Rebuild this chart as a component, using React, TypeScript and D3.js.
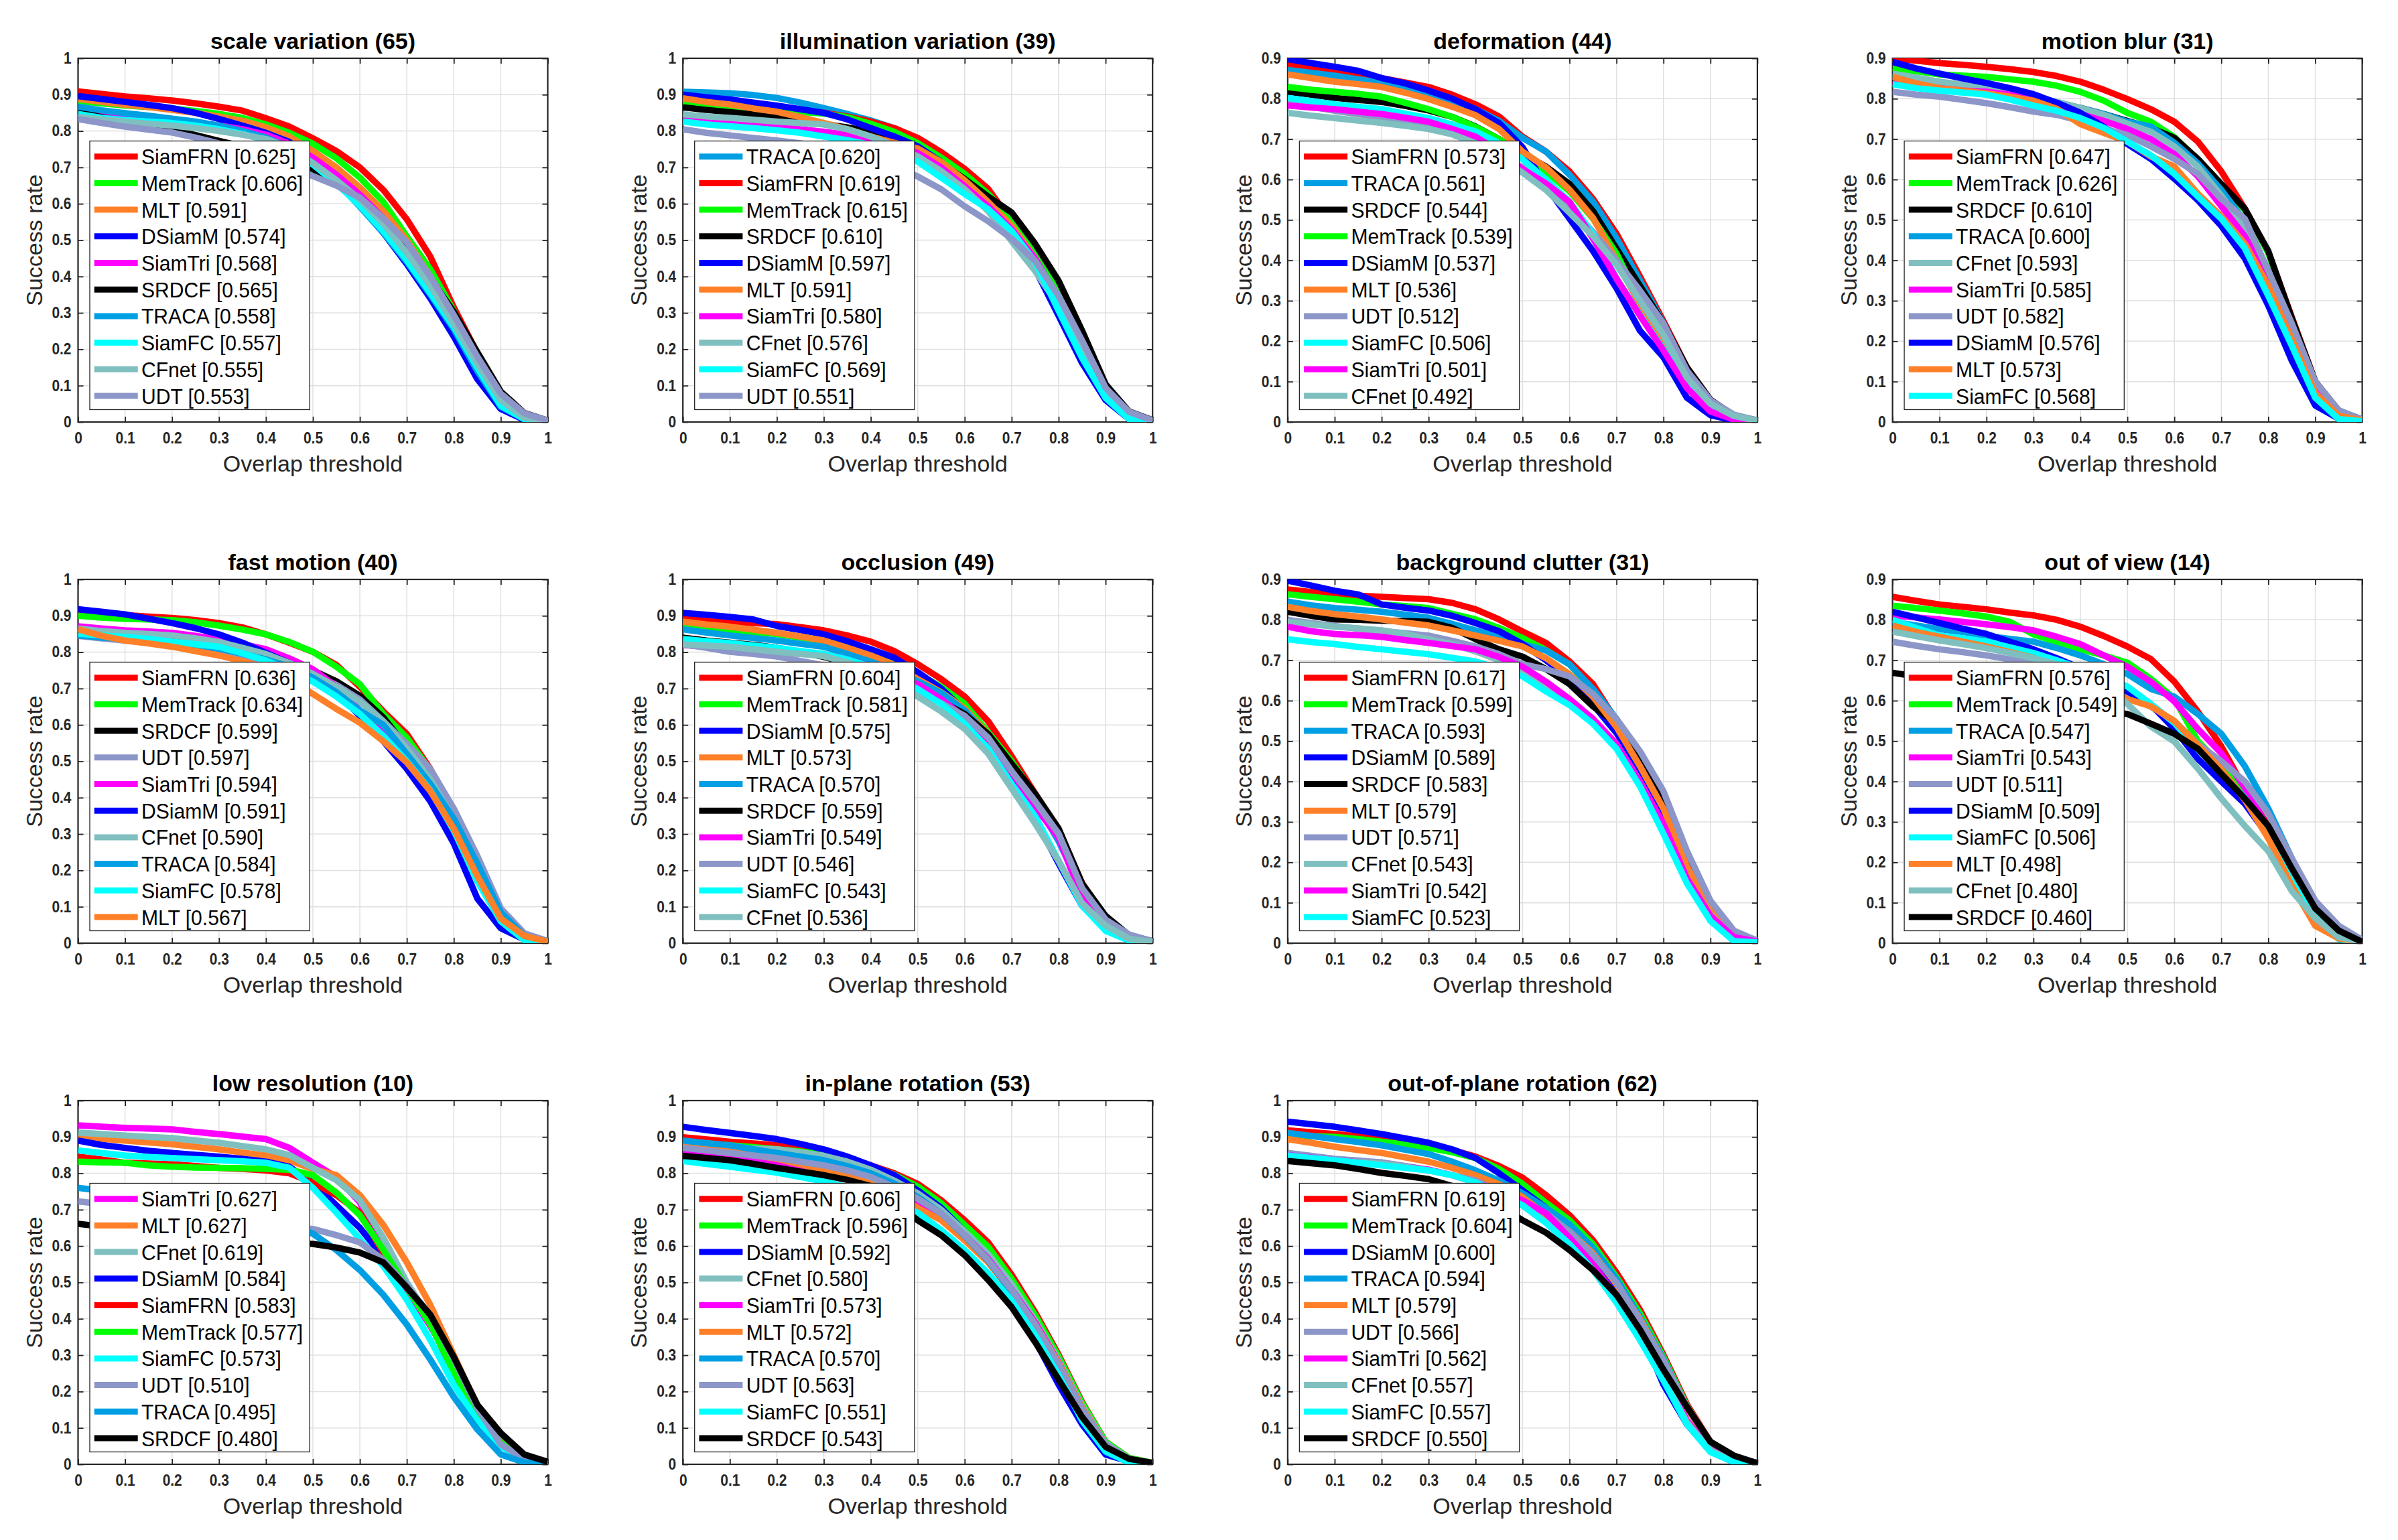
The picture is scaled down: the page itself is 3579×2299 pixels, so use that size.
import { useEffect, useRef } from 'react';
import * as d3 from 'd3';

type Series = [string, number, number[]];

// overlap thresholds used by every success curve
const thresholds = [0, 0.05, 0.1, 0.15, 0.2, 0.25, 0.3, 0.35, 0.4, 0.45, 0.5, 0.55, 0.6, 0.65, 0.7, 0.75, 0.8, 0.85, 0.9, 0.95, 1];

const trackerNames = ['SiamFRN', 'MemTrack', 'MLT', 'DSiamM', 'SiamTri', 'SRDCF', 'TRACA', 'SiamFC', 'CFnet', 'UDT'];
const trackerColors = ['#ff0000', '#00ff00', '#ff8028', '#0000ff', '#ff00ff', '#000000', '#009fe3', '#00ffff', '#7fbfbf', '#8c96c8'];

const scaleVariation: Series[] = [
  ['SiamFRN', 0.625, [0.909, 0.902, 0.895, 0.890, 0.884, 0.876, 0.867, 0.856, 0.835, 0.812, 0.780, 0.745, 0.700, 0.638, 0.557, 0.455, 0.315, 0.190, 0.078, 0.022, 0.003]],
  ['MemTrack', 0.606, [0.882, 0.876, 0.870, 0.866, 0.862, 0.855, 0.847, 0.836, 0.818, 0.795, 0.765, 0.725, 0.672, 0.605, 0.510, 0.420, 0.305, 0.180, 0.072, 0.020, 0.003]],
  ['MLT', 0.591, [0.888, 0.880, 0.872, 0.866, 0.858, 0.850, 0.840, 0.828, 0.810, 0.785, 0.745, 0.700, 0.645, 0.580, 0.500, 0.400, 0.290, 0.175, 0.068, 0.018, 0.003]],
  ['DSiamM', 0.574, [0.896, 0.888, 0.880, 0.872, 0.863, 0.850, 0.833, 0.815, 0.795, 0.770, 0.718, 0.662, 0.595, 0.520, 0.434, 0.340, 0.235, 0.118, 0.036, 0.006, 0.001]],
  ['SiamTri', 0.568, [0.850, 0.842, 0.836, 0.832, 0.828, 0.822, 0.815, 0.805, 0.790, 0.765, 0.727, 0.680, 0.625, 0.560, 0.488, 0.400, 0.295, 0.170, 0.060, 0.015, 0.002]],
  ['SRDCF', 0.565, [0.852, 0.838, 0.826, 0.815, 0.803, 0.789, 0.773, 0.758, 0.740, 0.718, 0.690, 0.655, 0.610, 0.550, 0.481, 0.395, 0.303, 0.192, 0.084, 0.025, 0.004]],
  ['TRACA', 0.558, [0.867, 0.857, 0.849, 0.842, 0.834, 0.826, 0.815, 0.800, 0.782, 0.755, 0.712, 0.660, 0.592, 0.520, 0.440, 0.350, 0.255, 0.140, 0.042, 0.008, 0.001]],
  ['SiamFC', 0.557, [0.847, 0.836, 0.830, 0.826, 0.822, 0.815, 0.805, 0.792, 0.775, 0.750, 0.708, 0.655, 0.595, 0.525, 0.445, 0.355, 0.262, 0.150, 0.045, 0.008, 0.001]],
  ['CFnet', 0.555, [0.839, 0.832, 0.826, 0.820, 0.815, 0.808, 0.800, 0.790, 0.778, 0.755, 0.712, 0.665, 0.612, 0.545, 0.465, 0.375, 0.270, 0.160, 0.060, 0.012, 0.002]],
  ['UDT', 0.553, [0.833, 0.822, 0.812, 0.804, 0.796, 0.782, 0.766, 0.750, 0.732, 0.708, 0.676, 0.650, 0.617, 0.560, 0.494, 0.400, 0.294, 0.180, 0.078, 0.024, 0.004]],
];

const illuminationVariation: Series[] = [
  ['TRACA', 0.620, [0.908, 0.906, 0.904, 0.899, 0.891, 0.878, 0.863, 0.847, 0.829, 0.808, 0.779, 0.740, 0.658, 0.610, 0.545, 0.455, 0.345, 0.215, 0.085, 0.015, 0.003]],
  ['SiamFRN', 0.619, [0.885, 0.878, 0.872, 0.866, 0.860, 0.855, 0.850, 0.840, 0.826, 0.808, 0.781, 0.742, 0.696, 0.641, 0.552, 0.449, 0.345, 0.215, 0.085, 0.018, 0.003]],
  ['MemTrack', 0.615, [0.879, 0.872, 0.866, 0.861, 0.856, 0.852, 0.848, 0.838, 0.820, 0.798, 0.767, 0.727, 0.682, 0.627, 0.559, 0.477, 0.367, 0.235, 0.092, 0.022, 0.003]],
  ['SRDCF', 0.610, [0.865, 0.858, 0.852, 0.846, 0.839, 0.830, 0.819, 0.810, 0.798, 0.778, 0.750, 0.712, 0.668, 0.620, 0.576, 0.490, 0.388, 0.251, 0.104, 0.029, 0.005]],
  ['DSiamM', 0.597, [0.900, 0.893, 0.887, 0.878, 0.870, 0.860, 0.850, 0.832, 0.808, 0.785, 0.758, 0.715, 0.660, 0.605, 0.530, 0.420, 0.292, 0.162, 0.060, 0.008, 0.001]],
  ['MLT', 0.591, [0.890, 0.880, 0.873, 0.862, 0.853, 0.838, 0.822, 0.805, 0.785, 0.768, 0.752, 0.715, 0.665, 0.605, 0.540, 0.450, 0.330, 0.200, 0.075, 0.015, 0.002]],
  ['SiamTri', 0.580, [0.842, 0.835, 0.826, 0.820, 0.812, 0.805, 0.798, 0.790, 0.775, 0.760, 0.740, 0.700, 0.648, 0.593, 0.530, 0.449, 0.340, 0.205, 0.075, 0.012, 0.002]],
  ['CFnet', 0.576, [0.846, 0.840, 0.836, 0.831, 0.826, 0.822, 0.818, 0.805, 0.785, 0.760, 0.730, 0.690, 0.640, 0.580, 0.497, 0.415, 0.320, 0.200, 0.075, 0.012, 0.002]],
  ['SiamFC', 0.569, [0.826, 0.818, 0.813, 0.808, 0.802, 0.795, 0.785, 0.775, 0.762, 0.742, 0.716, 0.672, 0.627, 0.585, 0.525, 0.440, 0.306, 0.176, 0.066, 0.008, 0.001]],
  ['UDT', 0.551, [0.805, 0.795, 0.788, 0.781, 0.774, 0.766, 0.756, 0.742, 0.725, 0.702, 0.675, 0.640, 0.593, 0.552, 0.504, 0.443, 0.347, 0.224, 0.094, 0.028, 0.004]],
];

const deformation: Series[] = [
  ['SiamFRN', 0.573, [0.884, 0.875, 0.866, 0.858, 0.851, 0.840, 0.829, 0.810, 0.786, 0.756, 0.706, 0.669, 0.620, 0.552, 0.466, 0.360, 0.250, 0.135, 0.055, 0.015, 0.003]],
  ['TRACA', 0.561, [0.871, 0.864, 0.857, 0.848, 0.839, 0.825, 0.811, 0.795, 0.774, 0.745, 0.703, 0.669, 0.612, 0.545, 0.455, 0.350, 0.245, 0.130, 0.052, 0.014, 0.003]],
  ['SRDCF', 0.544, [0.817, 0.810, 0.802, 0.797, 0.792, 0.782, 0.771, 0.755, 0.731, 0.700, 0.663, 0.632, 0.589, 0.522, 0.429, 0.337, 0.244, 0.135, 0.055, 0.016, 0.004]],
  ['MemTrack', 0.539, [0.829, 0.822, 0.817, 0.812, 0.805, 0.790, 0.774, 0.755, 0.730, 0.700, 0.663, 0.620, 0.571, 0.503, 0.417, 0.300, 0.220, 0.115, 0.048, 0.014, 0.003]],
  ['DSiamM', 0.537, [0.898, 0.888, 0.879, 0.869, 0.851, 0.838, 0.820, 0.800, 0.774, 0.740, 0.680, 0.583, 0.503, 0.423, 0.331, 0.226, 0.160, 0.060, 0.017, 0.004, 0.001]],
  ['MLT', 0.536, [0.860, 0.851, 0.842, 0.836, 0.829, 0.815, 0.799, 0.780, 0.759, 0.725, 0.669, 0.630, 0.575, 0.505, 0.400, 0.290, 0.195, 0.105, 0.040, 0.010, 0.002]],
  ['UDT', 0.512, [0.790, 0.780, 0.770, 0.762, 0.754, 0.742, 0.730, 0.712, 0.690, 0.660, 0.630, 0.585, 0.534, 0.470, 0.400, 0.325, 0.244, 0.127, 0.054, 0.018, 0.004]],
  ['SiamFC', 0.506, [0.802, 0.794, 0.786, 0.780, 0.774, 0.763, 0.752, 0.736, 0.719, 0.690, 0.650, 0.600, 0.545, 0.465, 0.355, 0.265, 0.180, 0.090, 0.030, 0.008, 0.001]],
  ['SiamTri', 0.501, [0.783, 0.778, 0.774, 0.768, 0.762, 0.753, 0.743, 0.725, 0.706, 0.670, 0.626, 0.590, 0.545, 0.454, 0.355, 0.263, 0.177, 0.084, 0.026, 0.006, 0.001]],
  ['CFnet', 0.492, [0.765, 0.758, 0.752, 0.746, 0.740, 0.733, 0.725, 0.712, 0.690, 0.655, 0.617, 0.574, 0.518, 0.460, 0.390, 0.300, 0.215, 0.110, 0.045, 0.015, 0.003]],
];

const motionBlur: Series[] = [
  ['SiamFRN', 0.647, [0.900, 0.894, 0.888, 0.884, 0.879, 0.873, 0.866, 0.856, 0.842, 0.822, 0.799, 0.774, 0.743, 0.694, 0.620, 0.528, 0.420, 0.260, 0.100, 0.025, 0.005]],
  ['MemTrack', 0.626, [0.876, 0.868, 0.860, 0.857, 0.854, 0.848, 0.842, 0.832, 0.817, 0.795, 0.765, 0.743, 0.705, 0.650, 0.588, 0.525, 0.418, 0.255, 0.098, 0.024, 0.005]],
  ['SRDCF', 0.610, [0.850, 0.842, 0.835, 0.826, 0.818, 0.810, 0.805, 0.790, 0.777, 0.762, 0.745, 0.728, 0.703, 0.651, 0.589, 0.528, 0.423, 0.257, 0.100, 0.028, 0.006]],
  ['TRACA', 0.600, [0.855, 0.846, 0.838, 0.830, 0.822, 0.812, 0.800, 0.790, 0.777, 0.762, 0.743, 0.731, 0.691, 0.640, 0.574, 0.497, 0.374, 0.230, 0.090, 0.022, 0.005]],
  ['CFnet', 0.593, [0.862, 0.852, 0.842, 0.835, 0.828, 0.818, 0.805, 0.792, 0.777, 0.760, 0.738, 0.718, 0.682, 0.632, 0.560, 0.480, 0.360, 0.225, 0.088, 0.022, 0.005]],
  ['SiamTri', 0.585, [0.842, 0.832, 0.826, 0.820, 0.817, 0.810, 0.799, 0.782, 0.762, 0.745, 0.725, 0.700, 0.663, 0.608, 0.534, 0.460, 0.355, 0.215, 0.082, 0.018, 0.004]],
  ['UDT', 0.582, [0.817, 0.810, 0.805, 0.797, 0.789, 0.779, 0.768, 0.760, 0.745, 0.726, 0.710, 0.682, 0.651, 0.614, 0.552, 0.503, 0.374, 0.244, 0.100, 0.029, 0.006]],
  ['DSiamM', 0.576, [0.891, 0.875, 0.862, 0.850, 0.839, 0.826, 0.811, 0.790, 0.765, 0.730, 0.688, 0.651, 0.602, 0.549, 0.485, 0.405, 0.288, 0.152, 0.041, 0.008, 0.002]],
  ['MLT', 0.573, [0.854, 0.838, 0.826, 0.820, 0.813, 0.805, 0.795, 0.775, 0.737, 0.715, 0.694, 0.657, 0.632, 0.565, 0.509, 0.441, 0.337, 0.205, 0.072, 0.015, 0.004]],
  ['SiamFC', 0.568, [0.836, 0.826, 0.820, 0.815, 0.810, 0.798, 0.783, 0.770, 0.752, 0.728, 0.694, 0.660, 0.614, 0.558, 0.503, 0.430, 0.312, 0.189, 0.060, 0.007, 0.002]],
];

const fastMotion: Series[] = [
  ['SiamFRN', 0.636, [0.910, 0.905, 0.902, 0.898, 0.894, 0.888, 0.880, 0.868, 0.849, 0.826, 0.801, 0.765, 0.705, 0.637, 0.575, 0.479, 0.360, 0.225, 0.090, 0.022, 0.005]],
  ['MemTrack', 0.634, [0.900, 0.895, 0.892, 0.890, 0.888, 0.882, 0.873, 0.862, 0.849, 0.828, 0.801, 0.760, 0.712, 0.630, 0.565, 0.475, 0.358, 0.224, 0.090, 0.022, 0.005]],
  ['SRDCF', 0.599, [0.860, 0.852, 0.845, 0.838, 0.830, 0.826, 0.822, 0.810, 0.795, 0.775, 0.750, 0.720, 0.680, 0.620, 0.540, 0.455, 0.349, 0.215, 0.085, 0.020, 0.005]],
  ['UDT', 0.597, [0.845, 0.838, 0.832, 0.826, 0.820, 0.812, 0.802, 0.790, 0.775, 0.760, 0.740, 0.710, 0.670, 0.610, 0.548, 0.479, 0.370, 0.240, 0.096, 0.027, 0.006]],
  ['SiamTri', 0.594, [0.871, 0.865, 0.860, 0.857, 0.853, 0.845, 0.835, 0.822, 0.808, 0.783, 0.753, 0.705, 0.640, 0.575, 0.510, 0.430, 0.330, 0.195, 0.070, 0.015, 0.003]],
  ['DSiamM', 0.591, [0.918, 0.911, 0.904, 0.892, 0.880, 0.866, 0.849, 0.826, 0.798, 0.770, 0.735, 0.690, 0.625, 0.555, 0.479, 0.390, 0.274, 0.123, 0.041, 0.010, 0.002]],
  ['CFnet', 0.590, [0.865, 0.858, 0.853, 0.850, 0.846, 0.838, 0.828, 0.812, 0.795, 0.770, 0.740, 0.705, 0.664, 0.610, 0.535, 0.450, 0.340, 0.205, 0.075, 0.015, 0.003]],
  ['TRACA', 0.584, [0.846, 0.840, 0.836, 0.830, 0.824, 0.818, 0.810, 0.796, 0.780, 0.760, 0.730, 0.690, 0.640, 0.600, 0.520, 0.438, 0.342, 0.219, 0.085, 0.020, 0.004]],
  ['SiamFC', 0.578, [0.851, 0.846, 0.842, 0.836, 0.829, 0.822, 0.815, 0.797, 0.777, 0.750, 0.719, 0.678, 0.630, 0.570, 0.500, 0.420, 0.310, 0.170, 0.060, 0.008, 0.002]],
  ['MLT', 0.567, [0.863, 0.845, 0.832, 0.824, 0.815, 0.803, 0.791, 0.775, 0.758, 0.725, 0.685, 0.644, 0.606, 0.555, 0.497, 0.418, 0.315, 0.185, 0.068, 0.020, 0.004]],
];

const occlusion: Series[] = [
  ['SiamFRN', 0.604, [0.896, 0.890, 0.884, 0.880, 0.877, 0.869, 0.860, 0.846, 0.829, 0.803, 0.767, 0.726, 0.678, 0.610, 0.514, 0.411, 0.310, 0.165, 0.070, 0.020, 0.005]],
  ['MemTrack', 0.581, [0.873, 0.866, 0.860, 0.855, 0.850, 0.840, 0.830, 0.815, 0.795, 0.770, 0.740, 0.705, 0.658, 0.580, 0.500, 0.405, 0.300, 0.155, 0.068, 0.020, 0.005]],
  ['DSiamM', 0.575, [0.908, 0.903, 0.897, 0.890, 0.872, 0.861, 0.849, 0.830, 0.808, 0.785, 0.745, 0.700, 0.640, 0.560, 0.450, 0.342, 0.219, 0.103, 0.040, 0.008, 0.002]],
  ['MLT', 0.573, [0.884, 0.876, 0.870, 0.862, 0.853, 0.843, 0.832, 0.812, 0.791, 0.765, 0.726, 0.690, 0.645, 0.575, 0.490, 0.395, 0.290, 0.150, 0.060, 0.015, 0.003]],
  ['TRACA', 0.570, [0.863, 0.854, 0.846, 0.839, 0.832, 0.823, 0.815, 0.795, 0.774, 0.750, 0.720, 0.688, 0.640, 0.570, 0.485, 0.390, 0.280, 0.145, 0.058, 0.015, 0.003]],
  ['SRDCF', 0.559, [0.840, 0.832, 0.826, 0.820, 0.812, 0.800, 0.787, 0.770, 0.752, 0.725, 0.700, 0.665, 0.630, 0.575, 0.493, 0.411, 0.315, 0.164, 0.075, 0.022, 0.005]],
  ['SiamTri', 0.549, [0.820, 0.815, 0.810, 0.804, 0.798, 0.796, 0.795, 0.780, 0.760, 0.737, 0.712, 0.671, 0.620, 0.555, 0.470, 0.375, 0.290, 0.125, 0.050, 0.012, 0.003]],
  ['UDT', 0.546, [0.822, 0.812, 0.801, 0.795, 0.788, 0.776, 0.764, 0.748, 0.730, 0.712, 0.690, 0.660, 0.625, 0.565, 0.473, 0.390, 0.301, 0.151, 0.065, 0.024, 0.005]],
  ['SiamFC', 0.543, [0.836, 0.830, 0.825, 0.818, 0.812, 0.803, 0.795, 0.780, 0.760, 0.730, 0.699, 0.658, 0.603, 0.535, 0.438, 0.349, 0.226, 0.103, 0.034, 0.007, 0.002]],
  ['CFnet', 0.536, [0.822, 0.818, 0.815, 0.808, 0.801, 0.795, 0.789, 0.772, 0.752, 0.718, 0.678, 0.637, 0.589, 0.521, 0.425, 0.329, 0.226, 0.110, 0.048, 0.012, 0.003]],
];

const backgroundClutter: Series[] = [
  ['SiamFRN', 0.617, [0.875, 0.869, 0.863, 0.860, 0.857, 0.854, 0.851, 0.842, 0.826, 0.801, 0.771, 0.743, 0.697, 0.641, 0.550, 0.455, 0.350, 0.205, 0.090, 0.025, 0.005]],
  ['MemTrack', 0.599, [0.863, 0.857, 0.851, 0.845, 0.838, 0.834, 0.829, 0.815, 0.801, 0.780, 0.755, 0.725, 0.690, 0.625, 0.545, 0.445, 0.340, 0.200, 0.085, 0.022, 0.005]],
  ['TRACA', 0.593, [0.845, 0.836, 0.829, 0.825, 0.820, 0.813, 0.805, 0.790, 0.774, 0.758, 0.740, 0.724, 0.690, 0.629, 0.555, 0.462, 0.360, 0.215, 0.092, 0.025, 0.005]],
  ['DSiamM', 0.589, [0.897, 0.885, 0.872, 0.863, 0.838, 0.830, 0.823, 0.810, 0.792, 0.772, 0.740, 0.700, 0.655, 0.590, 0.520, 0.430, 0.320, 0.180, 0.068, 0.015, 0.003]],
  ['SRDCF', 0.583, [0.820, 0.810, 0.801, 0.800, 0.798, 0.797, 0.795, 0.780, 0.752, 0.727, 0.709, 0.678, 0.641, 0.586, 0.543, 0.456, 0.351, 0.203, 0.086, 0.025, 0.006]],
  ['MLT', 0.579, [0.832, 0.822, 0.814, 0.808, 0.801, 0.793, 0.786, 0.774, 0.761, 0.748, 0.734, 0.705, 0.665, 0.610, 0.535, 0.438, 0.333, 0.190, 0.080, 0.020, 0.005]],
  ['UDT', 0.571, [0.800, 0.792, 0.785, 0.778, 0.772, 0.767, 0.761, 0.748, 0.734, 0.715, 0.690, 0.678, 0.660, 0.617, 0.555, 0.475, 0.376, 0.228, 0.105, 0.031, 0.006]],
  ['CFnet', 0.543, [0.795, 0.789, 0.783, 0.779, 0.774, 0.765, 0.752, 0.740, 0.722, 0.700, 0.675, 0.640, 0.600, 0.550, 0.490, 0.400, 0.290, 0.160, 0.070, 0.015, 0.004]],
  ['SiamTri', 0.542, [0.783, 0.772, 0.765, 0.762, 0.758, 0.750, 0.743, 0.735, 0.727, 0.708, 0.684, 0.647, 0.604, 0.555, 0.493, 0.400, 0.295, 0.160, 0.068, 0.015, 0.004]],
  ['SiamFC', 0.523, [0.752, 0.745, 0.740, 0.733, 0.727, 0.721, 0.715, 0.706, 0.697, 0.680, 0.660, 0.623, 0.589, 0.543, 0.481, 0.388, 0.271, 0.148, 0.055, 0.005, 0.002]],
];

const outOfView: Series[] = [
  ['SiamFRN', 0.576, [0.857, 0.847, 0.838, 0.832, 0.826, 0.818, 0.811, 0.800, 0.783, 0.760, 0.734, 0.703, 0.647, 0.573, 0.487, 0.382, 0.290, 0.180, 0.080, 0.020, 0.004]],
  ['MemTrack', 0.549, [0.835, 0.829, 0.823, 0.816, 0.808, 0.795, 0.764, 0.745, 0.727, 0.712, 0.694, 0.654, 0.605, 0.500, 0.440, 0.370, 0.275, 0.160, 0.070, 0.015, 0.003]],
  ['TRACA', 0.547, [0.795, 0.786, 0.777, 0.770, 0.760, 0.753, 0.746, 0.730, 0.712, 0.690, 0.666, 0.629, 0.610, 0.567, 0.518, 0.438, 0.333, 0.210, 0.090, 0.025, 0.004]],
  ['SiamTri', 0.543, [0.811, 0.806, 0.801, 0.795, 0.789, 0.782, 0.774, 0.758, 0.740, 0.712, 0.684, 0.647, 0.598, 0.530, 0.470, 0.385, 0.285, 0.165, 0.075, 0.018, 0.003]],
  ['UDT', 0.511, [0.746, 0.736, 0.727, 0.720, 0.712, 0.702, 0.690, 0.675, 0.660, 0.640, 0.615, 0.585, 0.549, 0.493, 0.450, 0.400, 0.321, 0.210, 0.105, 0.043, 0.008]],
  ['DSiamM', 0.509, [0.820, 0.806, 0.792, 0.778, 0.765, 0.746, 0.727, 0.705, 0.680, 0.650, 0.623, 0.590, 0.530, 0.456, 0.400, 0.345, 0.265, 0.160, 0.075, 0.015, 0.003]],
  ['SiamFC', 0.506, [0.800, 0.780, 0.761, 0.754, 0.746, 0.732, 0.718, 0.700, 0.680, 0.660, 0.635, 0.592, 0.545, 0.480, 0.420, 0.360, 0.270, 0.160, 0.070, 0.010, 0.002]],
  ['MLT', 0.498, [0.786, 0.770, 0.758, 0.746, 0.734, 0.720, 0.706, 0.680, 0.655, 0.630, 0.604, 0.586, 0.550, 0.490, 0.430, 0.355, 0.259, 0.142, 0.043, 0.012, 0.002]],
  ['CFnet', 0.480, [0.771, 0.760, 0.749, 0.740, 0.730, 0.718, 0.705, 0.690, 0.670, 0.640, 0.592, 0.536, 0.499, 0.432, 0.358, 0.290, 0.228, 0.129, 0.062, 0.015, 0.003]],
  ['SRDCF', 0.460, [0.669, 0.660, 0.650, 0.640, 0.630, 0.620, 0.610, 0.598, 0.585, 0.575, 0.567, 0.543, 0.518, 0.481, 0.419, 0.358, 0.290, 0.185, 0.086, 0.031, 0.003]],
];

const lowResolution: Series[] = [
  ['SiamTri', 0.627, [0.932, 0.928, 0.925, 0.923, 0.921, 0.914, 0.908, 0.901, 0.894, 0.870, 0.829, 0.790, 0.720, 0.582, 0.480, 0.380, 0.270, 0.140, 0.060, 0.012, 0.002]],
  ['MLT', 0.627, [0.900, 0.895, 0.890, 0.885, 0.880, 0.873, 0.866, 0.857, 0.849, 0.835, 0.812, 0.795, 0.740, 0.658, 0.555, 0.438, 0.300, 0.160, 0.065, 0.015, 0.003]],
  ['CFnet', 0.619, [0.912, 0.908, 0.904, 0.900, 0.897, 0.890, 0.884, 0.875, 0.866, 0.850, 0.815, 0.781, 0.726, 0.623, 0.500, 0.400, 0.280, 0.150, 0.060, 0.012, 0.002]],
  ['DSiamM', 0.584, [0.890, 0.878, 0.870, 0.862, 0.856, 0.851, 0.846, 0.840, 0.832, 0.818, 0.774, 0.712, 0.650, 0.570, 0.490, 0.390, 0.270, 0.140, 0.055, 0.010, 0.002]],
  ['SiamFRN', 0.583, [0.846, 0.838, 0.829, 0.827, 0.825, 0.820, 0.815, 0.812, 0.808, 0.800, 0.774, 0.740, 0.692, 0.582, 0.486, 0.390, 0.247, 0.137, 0.060, 0.012, 0.002]],
  ['MemTrack', 0.577, [0.832, 0.830, 0.829, 0.822, 0.818, 0.816, 0.815, 0.814, 0.812, 0.810, 0.795, 0.747, 0.685, 0.590, 0.486, 0.385, 0.255, 0.140, 0.060, 0.012, 0.002]],
  ['SiamFC', 0.573, [0.863, 0.856, 0.849, 0.845, 0.842, 0.839, 0.836, 0.833, 0.829, 0.815, 0.760, 0.692, 0.620, 0.545, 0.452, 0.342, 0.219, 0.120, 0.050, 0.010, 0.002]],
  ['UDT', 0.510, [0.723, 0.716, 0.710, 0.702, 0.695, 0.688, 0.680, 0.670, 0.660, 0.652, 0.647, 0.630, 0.610, 0.562, 0.490, 0.411, 0.290, 0.155, 0.055, 0.015, 0.003]],
  ['TRACA', 0.495, [0.760, 0.752, 0.745, 0.738, 0.730, 0.720, 0.710, 0.695, 0.680, 0.660, 0.634, 0.589, 0.534, 0.466, 0.384, 0.288, 0.185, 0.096, 0.027, 0.005, 0.001]],
  ['SRDCF', 0.480, [0.661, 0.654, 0.648, 0.642, 0.636, 0.630, 0.625, 0.618, 0.612, 0.609, 0.606, 0.596, 0.582, 0.555, 0.486, 0.411, 0.295, 0.164, 0.086, 0.027, 0.007]],
];

const inPlaneRotation: Series[] = [
  ['SiamFRN', 0.606, [0.899, 0.893, 0.887, 0.882, 0.877, 0.866, 0.853, 0.840, 0.822, 0.800, 0.771, 0.726, 0.671, 0.610, 0.521, 0.418, 0.301, 0.171, 0.062, 0.017, 0.004]],
  ['MemTrack', 0.596, [0.888, 0.882, 0.877, 0.872, 0.866, 0.860, 0.853, 0.838, 0.820, 0.796, 0.764, 0.718, 0.658, 0.598, 0.510, 0.410, 0.296, 0.168, 0.062, 0.017, 0.004]],
  ['DSiamM', 0.592, [0.928, 0.919, 0.911, 0.903, 0.894, 0.881, 0.866, 0.846, 0.822, 0.795, 0.753, 0.705, 0.640, 0.565, 0.470, 0.340, 0.219, 0.110, 0.027, 0.008, 0.002]],
  ['CFnet', 0.580, [0.880, 0.875, 0.870, 0.868, 0.866, 0.858, 0.848, 0.832, 0.810, 0.780, 0.745, 0.700, 0.640, 0.578, 0.495, 0.395, 0.285, 0.160, 0.058, 0.015, 0.003]],
  ['SiamTri', 0.573, [0.856, 0.851, 0.846, 0.838, 0.829, 0.822, 0.815, 0.805, 0.795, 0.765, 0.719, 0.680, 0.630, 0.565, 0.480, 0.390, 0.280, 0.155, 0.055, 0.013, 0.003]],
  ['MLT', 0.572, [0.880, 0.870, 0.860, 0.850, 0.840, 0.825, 0.808, 0.792, 0.772, 0.742, 0.705, 0.671, 0.616, 0.555, 0.475, 0.385, 0.278, 0.155, 0.055, 0.013, 0.003]],
  ['TRACA', 0.570, [0.890, 0.883, 0.877, 0.866, 0.856, 0.846, 0.836, 0.820, 0.800, 0.772, 0.735, 0.690, 0.628, 0.560, 0.475, 0.380, 0.272, 0.150, 0.052, 0.012, 0.003]],
  ['UDT', 0.563, [0.870, 0.863, 0.856, 0.849, 0.842, 0.832, 0.822, 0.808, 0.790, 0.762, 0.730, 0.690, 0.630, 0.562, 0.479, 0.384, 0.274, 0.151, 0.055, 0.015, 0.003]],
  ['SiamFC', 0.551, [0.834, 0.826, 0.818, 0.810, 0.802, 0.790, 0.778, 0.762, 0.745, 0.720, 0.692, 0.644, 0.589, 0.525, 0.450, 0.355, 0.245, 0.120, 0.035, 0.005, 0.001]],
  ['SRDCF', 0.543, [0.848, 0.842, 0.836, 0.826, 0.815, 0.805, 0.795, 0.782, 0.765, 0.720, 0.671, 0.630, 0.575, 0.507, 0.432, 0.336, 0.233, 0.130, 0.048, 0.015, 0.004]],
];

const outOfPlaneRotation: Series[] = [
  ['SiamFRN', 0.619, [0.918, 0.913, 0.908, 0.902, 0.897, 0.888, 0.878, 0.864, 0.846, 0.820, 0.788, 0.740, 0.685, 0.616, 0.527, 0.425, 0.301, 0.165, 0.062, 0.018, 0.004]],
  ['MemTrack', 0.604, [0.905, 0.902, 0.900, 0.894, 0.887, 0.879, 0.870, 0.858, 0.842, 0.812, 0.771, 0.719, 0.671, 0.605, 0.515, 0.415, 0.295, 0.160, 0.060, 0.016, 0.003]],
  ['DSiamM', 0.600, [0.942, 0.935, 0.928, 0.918, 0.908, 0.896, 0.884, 0.866, 0.842, 0.800, 0.753, 0.705, 0.640, 0.565, 0.475, 0.370, 0.219, 0.110, 0.035, 0.006, 0.001]],
  ['TRACA', 0.594, [0.911, 0.903, 0.894, 0.886, 0.877, 0.865, 0.853, 0.832, 0.808, 0.780, 0.745, 0.705, 0.660, 0.595, 0.510, 0.405, 0.290, 0.155, 0.058, 0.015, 0.003]],
  ['MLT', 0.579, [0.894, 0.884, 0.873, 0.864, 0.856, 0.844, 0.832, 0.815, 0.795, 0.770, 0.735, 0.685, 0.640, 0.580, 0.495, 0.400, 0.285, 0.155, 0.055, 0.014, 0.003]],
  ['UDT', 0.566, [0.856, 0.848, 0.840, 0.835, 0.830, 0.820, 0.810, 0.795, 0.780, 0.750, 0.720, 0.690, 0.640, 0.575, 0.500, 0.395, 0.285, 0.158, 0.062, 0.018, 0.004]],
  ['SiamTri', 0.562, [0.850, 0.843, 0.836, 0.830, 0.824, 0.818, 0.810, 0.795, 0.775, 0.752, 0.726, 0.690, 0.623, 0.550, 0.460, 0.360, 0.245, 0.120, 0.040, 0.008, 0.002]],
  ['CFnet', 0.557, [0.845, 0.840, 0.835, 0.830, 0.826, 0.818, 0.808, 0.795, 0.775, 0.745, 0.712, 0.664, 0.605, 0.534, 0.445, 0.342, 0.235, 0.115, 0.038, 0.008, 0.002]],
  ['SiamFC', 0.557, [0.849, 0.842, 0.836, 0.829, 0.822, 0.815, 0.808, 0.795, 0.775, 0.745, 0.712, 0.664, 0.605, 0.534, 0.445, 0.342, 0.230, 0.110, 0.034, 0.006, 0.001]],
  ['SRDCF', 0.550, [0.834, 0.828, 0.822, 0.812, 0.801, 0.793, 0.784, 0.765, 0.745, 0.710, 0.671, 0.637, 0.589, 0.534, 0.466, 0.370, 0.260, 0.158, 0.062, 0.024, 0.003]],
];

const panelSeries = [
  scaleVariation, illuminationVariation, deformation, motionBlur,
  fastMotion, occlusion, backgroundClutter, outOfView,
  lowResolution, inPlaneRotation, outOfPlaneRotation,
];
const panelTitles = [
  'scale variation (65)', 'illumination variation (39)', 'deformation (44)', 'motion blur (31)',
  'fast motion (40)', 'occlusion (49)', 'background clutter (31)', 'out of view (14)',
  'low resolution (10)', 'in-plane rotation (53)', 'out-of-plane rotation (62)',
];
const panelYMax = [1, 1, 0.9, 0.9, 1, 1, 0.9, 0.9, 1, 1, 1];

const FONT = '"Liberation Sans", Arial, Helvetica, sans-serif';
const AXIS_COLOR = '#262626';
// the original text is a little narrower than Arial at the same height
const TICK_SQUEEZE = 0.91;
const LEGEND_SQUEEZE = 0.94;

export default function App() {
  const svgRef = useRef<SVGSVGElement>(null);

  useEffect(() => {
    if (!svgRef.current) return;
    const width = 3579;
    const height = 2299;
    const svg = d3.select(svgRef.current);
    svg.selectAll('*').remove();
    svg.attr('width', width).attr('height', height);
    svg.append('rect').attr('width', width).attr('height', height).attr('fill', '#fff');

    const plotW = 701;
    const plotH = 543;

    panelSeries.forEach((series, i) => {
      const row = Math.floor(i / 4);
      const col = i % 4;
      const left = 116.5 + col * 902.7;
      const top = 87 + row * 778;

      const g = svg.append('g').attr('transform', `translate(${left},${top})`);
      const x = d3.scaleLinear().domain([0, 1]).range([0, plotW]);
      const y = d3.scaleLinear().domain([0, panelYMax[i]]).range([plotH, 0]);
      const xTicks = x.ticks(10);
      const yTicks = y.ticks(10);
      const fmt = d3.format('~g');

      // grid
      const grid = g.append('g').attr('stroke', '#e0e0e0').attr('stroke-width', 1.5);
      grid.selectAll('line.gx').data(xTicks).join('line').attr('class', 'gx')
        .attr('x1', d => x(d)).attr('x2', d => x(d)).attr('y1', 0).attr('y2', plotH);
      grid.selectAll('line.gy').data(yTicks).join('line').attr('class', 'gy')
        .attr('x1', 0).attr('x2', plotW).attr('y1', d => y(d)).attr('y2', d => y(d));

      // axes, ticks pointing inward on all four sides
      const styleAxis = (sel: any) => {
        sel.attr('font-family', FONT).attr('font-size', 23).attr('font-weight', 'bold');
        sel.select('.domain').remove();
        sel.selectAll('line').attr('stroke', AXIS_COLOR).attr('stroke-width', 1.8);
        sel.selectAll('text').attr('fill', AXIS_COLOR);
      };
      const xAxisG = g.append('g').attr('transform', `translate(0,${plotH})`)
        .call(d3.axisBottom(x).tickValues(xTicks).tickSizeInner(-8).tickSizeOuter(0).tickFormat(d => fmt(d as number)));
      styleAxis(xAxisG);
      xAxisG.selectAll('text').attr('y', 32).attr('dy', null).attr('transform', `scale(${TICK_SQUEEZE},1)`);

      const yAxisG = g.append('g')
        .call(d3.axisLeft(y).tickValues(yTicks).tickSizeInner(-8).tickSizeOuter(0).tickFormat(d => fmt(d as number)));
      styleAxis(yAxisG);
      yAxisG.selectAll('text').attr('x', -10 / TICK_SQUEEZE).attr('transform', `scale(${TICK_SQUEEZE},1)`);

      const topAxisG = g.append('g')
        .call(d3.axisTop(x).tickValues(xTicks).tickSizeInner(-8).tickSizeOuter(0).tickFormat(() => ''));
      styleAxis(topAxisG);
      const rightAxisG = g.append('g').attr('transform', `translate(${plotW},0)`)
        .call(d3.axisRight(y).tickValues(yTicks).tickSizeInner(-8).tickSizeOuter(0).tickFormat(() => ''));
      styleAxis(rightAxisG);

      g.append('rect').attr('width', plotW).attr('height', plotH)
        .attr('fill', 'none').attr('stroke', AXIS_COLOR).attr('stroke-width', 2.2);

      // curves
      const clipId = `clip-panel-${i}`;
      g.append('defs').append('clipPath').attr('id', clipId)
        .append('rect').attr('width', plotW).attr('height', plotH);

      const line = d3.line<number>()
        .x((_, k) => x(thresholds[k]))
        .y(v => y(v));

      g.append('g').attr('clip-path', `url(#${clipId})`)
        .selectAll('path').data(series).join('path')
        .attr('d', d => line(d[2]))
        .attr('fill', 'none')
        .attr('stroke', d => trackerColors[trackerNames.indexOf(d[0])])
        .attr('stroke-width', 9.5)
        .attr('stroke-linejoin', 'round');

      // legend (southwest)
      const leg = g.append('g').attr('transform', 'translate(17.5,123.5)');
      const box = leg.append('rect').attr('height', 401)
        .attr('fill', '#fff').attr('stroke', '#262626').attr('stroke-width', 1.3);
      const rows = leg.selectAll('g.row').data(series).join('g').attr('class', 'row')
        .attr('transform', (_, k) => `translate(0,${23.2 + k * 39.7})`);
      rows.append('line').attr('x1', 6.7).attr('x2', 71.7)
        .attr('stroke', d => trackerColors[trackerNames.indexOf(d[0])])
        .attr('stroke-width', 9);
      const labels = rows.append('text').attr('transform', `translate(77,0) scale(${LEGEND_SQUEEZE},1)`)
        .attr('dy', '0.36em')
        .attr('font-family', FONT).attr('font-size', 32).attr('fill', '#000')
        .text(d => `${d[0]} [${d[1].toFixed(3)}]`);
      const maxLen = (d3.max(labels.nodes(), n => (n as SVGTextElement).getComputedTextLength()) ?? 255) * LEGEND_SQUEEZE;
      box.attr('width', 77 + maxLen + 10);

      // title and axis labels
      g.append('text').attr('x', plotW / 2).attr('y', -14).attr('text-anchor', 'middle')
        .attr('font-family', FONT).attr('font-size', 34).attr('font-weight', 'bold').attr('fill', '#000')
        .text(panelTitles[i]);
      g.append('text').attr('x', plotW / 2).attr('y', plotH + 74).attr('text-anchor', 'middle')
        .attr('font-family', FONT).attr('font-size', 34).attr('fill', AXIS_COLOR)
        .text('Overlap threshold');
      g.append('text').attr('transform', `translate(-54,${plotH / 2}) rotate(-90)`).attr('text-anchor', 'middle')
        .attr('font-family', FONT).attr('font-size', 34).attr('fill', AXIS_COLOR)
        .text('Success rate');
    });
  }, []);

  return (
    <div style={{ position: 'absolute', left: 0, top: 0 }}>
      <svg ref={svgRef} style={{ display: 'block' }}></svg>
    </div>
  );
}
